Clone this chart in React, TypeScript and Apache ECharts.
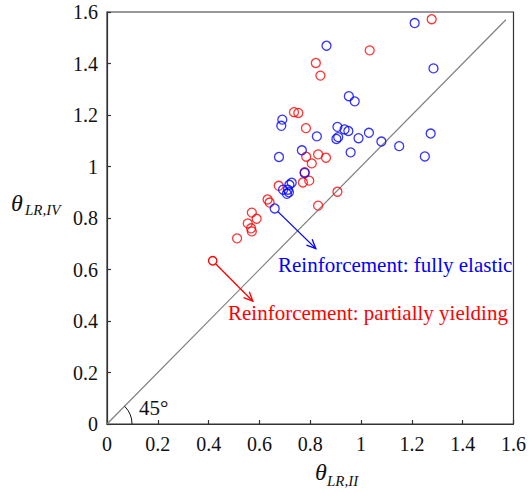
import React, { useEffect, useRef } from "react";
import * as echarts from "echarts";

const xTickLabels = ["0", "0.2", "0.4", "0.6", "0.8", "1", "1.2", "1.4", "1.6"];
const yTickLabels = ["0", "0.2", "0.4", "0.6", "0.8", "1", "1.2", "1.4", "1.6"];

const fullyElastic: number[][] = [
  [1.211, 1.557], [1.285, 1.381], [0.864, 1.469], [0.952, 1.273], [0.975, 1.253],
  [0.69, 1.182], [0.686, 1.158], [0.907, 1.154], [0.935, 1.144], [0.95, 1.138],
  [0.826, 1.117], [0.903, 1.107], [0.91, 1.114], [0.99, 1.11], [1.031, 1.131],
  [1.08, 1.097], [1.15, 1.079], [1.274, 1.128], [1.251, 1.039], [0.959, 1.055],
  [0.767, 1.063], [0.677, 1.037], [0.778, 0.975], [0.727, 0.937], [0.718, 0.929],
  [0.693, 0.91], [0.712, 0.91], [0.708, 0.894], [0.716, 0.9], [0.66, 0.837],
];

const partiallyYielding: number[][] = [
  [1.278, 1.572], [1.034, 1.451], [0.822, 1.402], [0.84, 1.353], [0.736, 1.211],
  [0.753, 1.208], [0.783, 1.149], [0.784, 1.038], [0.831, 1.047], [0.862, 1.034],
  [0.806, 1.012], [0.778, 0.978], [0.796, 0.945], [0.771, 0.938], [0.676, 0.925],
  [0.907, 0.902], [0.831, 0.848], [0.632, 0.872], [0.64, 0.86], [0.57, 0.821],
  [0.589, 0.797], [0.554, 0.779], [0.567, 0.76], [0.57, 0.748], [0.512, 0.721],
];

const diagonal: number[][] = [[0, 0], [1.57, 1.57]];

// arrows: [x1, y1, x2, y2, colorIndex, startCircle]
const arrows: number[][] = [
  [0.66, 0.837, 0.822, 0.681, 0, 0],
  [0.416, 0.634, 0.574, 0.477, 1, 1],
];
const arrowColors = ["#0000ff", "#ff0000"];

const FONT = "'Liberation Serif', 'Times New Roman', serif";

export default function App() {
  const ref = useRef<HTMLDivElement>(null);
  useEffect(() => {
    document.body.style.margin = "0";
    const chart = echarts.init(ref.current!, null, { renderer: "svg" });
    const axisCommon = {
      type: "value" as const,
      min: 0,
      max: 1.6,
      interval: 0.2,
      axisLine: { show: true, lineStyle: { color: "#333", width: 1.2 } },
      axisTick: { show: true, inside: true, length: 4, lineStyle: { color: "#333", width: 1.2 } },
      splitLine: { show: false },
    };
    chart.setOption({
      animation: false,
      backgroundColor: "#fff",
      grid: {
        left: 107, top: 12, right: 9, bottom: 68,
        show: true, borderColor: "#333", borderWidth: 1.2, backgroundColor: "transparent",
      },
      xAxis: {
        ...axisCommon,
        axisLabel: {
          margin: 10, fontSize: 20, fontFamily: FONT, color: "#111",
          formatter: (_v: number, i: number) => xTickLabels[i],
        },
      },
      yAxis: {
        ...axisCommon,
        axisLabel: {
          margin: 9, fontSize: 20, fontFamily: FONT, color: "#111",
          formatter: (_v: number, i: number) => yTickLabels[i],
        },
      },
      graphic: [
        { type: "text", left: 315, top: 460, style: { text: "θ", font: `italic 24px ${FONT}`, fill: "#111" } },
        { type: "text", left: 327, top: 473, style: { text: "LR,II", font: `italic 15px ${FONT}`, fill: "#111" } },
        { type: "text", left: 11, top: 191, style: { text: "θ", font: `italic 24px ${FONT}`, fill: "#111" } },
        { type: "text", left: 25, top: 202, style: { text: "LR,IV", font: `italic 15px ${FONT}`, fill: "#111" } },
        { type: "text", left: 278, top: 254, style: { text: "Reinforcement: fully elastic", font: `21px ${FONT}`, fill: "#0000ff" } },
        { type: "text", left: 228, top: 302, style: { text: "Reinforcement: partially yielding", font: `21px ${FONT}`, fill: "#ff0000" } },
        { type: "text", left: 139, top: 397, style: { text: "45°", font: `21px ${FONT}`, fill: "#111" } },
      ],
      series: [
        {
          type: "line",
          data: diagonal,
          symbol: "none",
          lineStyle: { color: "#808080", width: 1.2 },
          z: 1,
          silent: true,
        },
        {
          type: "custom",
          data: [[0, 0]],
          silent: true,
          z: 2,
          renderItem: (params: any, api: any) => {
            const o = api.coord([0, 0]);
            return {
              type: "arc",
              shape: { cx: o[0], cy: o[1], r: 25, startAngle: -Math.PI / 4, endAngle: 0, clockwise: true },
              style: { stroke: "#111", lineWidth: 1, fill: null },
            };
          },
        },
        {
          type: "scatter",
          data: partiallyYielding,
          symbol: "circle",
          symbolSize: 9,
          itemStyle: { color: "rgba(0,0,0,0)", borderColor: "#ff0000", borderWidth: 1.3 },
          z: 3,
        },
        {
          type: "scatter",
          data: fullyElastic,
          symbol: "circle",
          symbolSize: 9,
          itemStyle: { color: "rgba(0,0,0,0)", borderColor: "#0000ff", borderWidth: 1.3 },
          z: 4,
        },
        {
          type: "custom",
          data: arrows,
          silent: true,
          z: 5,
          renderItem: (params: any, api: any) => {
            const p1 = api.coord([api.value(0), api.value(1)]);
            const p2 = api.coord([api.value(2), api.value(3)]);
            const color = arrowColors[api.value(4)];
            const hasCircle = api.value(5) === 1;
            const dx = p2[0] - p1[0];
            const dy = p2[1] - p1[1];
            const len = Math.sqrt(dx * dx + dy * dy);
            const ux = dx / len, uy = dy / len;
            const r = 4.5;
            const sx = p1[0] + ux * r, sy = p1[1] + uy * r;
            const ah = 10, aw = 0.42;
            const ang = Math.atan2(uy, ux);
            const a1 = ang + Math.PI - aw, a2 = ang + Math.PI + aw;
            const children: any[] = [
              { type: "line", shape: { x1: sx, y1: sy, x2: p2[0], y2: p2[1] }, style: { stroke: color, lineWidth: 1.3 } },
              {
                type: "polyline",
                shape: {
                  points: [
                    [p2[0] + ah * Math.cos(a1), p2[1] + ah * Math.sin(a1)],
                    [p2[0], p2[1]],
                    [p2[0] + ah * Math.cos(a2), p2[1] + ah * Math.sin(a2)],
                  ],
                },
                style: { stroke: color, lineWidth: 1.3, fill: null },
              },
            ];
            if (hasCircle) {
              children.push({
                type: "circle",
                shape: { cx: p1[0], cy: p1[1], r: 4.2 },
                style: { stroke: color, lineWidth: 1.3, fill: null },
              });
            }
            return { type: "group", children };
          },
        },
      ],
    });
    return () => chart.dispose();
  }, []);
  return <div ref={ref} style={{ width: 529, height: 492 }} />;
}
